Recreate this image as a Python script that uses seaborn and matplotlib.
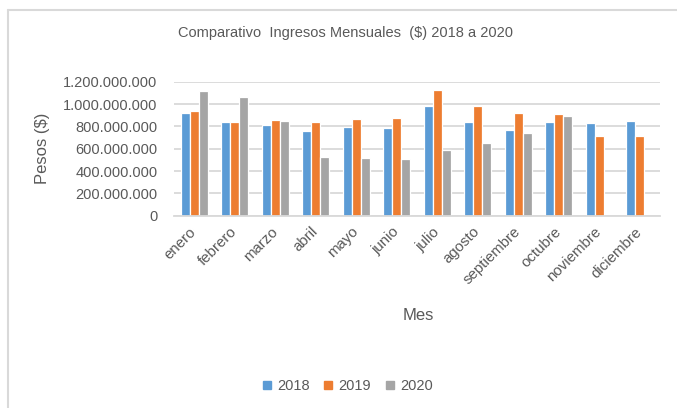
import numpy as np
import pandas as pd
import matplotlib
matplotlib.use("Agg")
import matplotlib.pyplot as plt
import seaborn as sns
from matplotlib.lines import Line2D
from matplotlib.ticker import FuncFormatter

meses = ["enero", "febrero", "marzo", "abril", "mayo", "junio", "julio",
         "agosto", "septiembre", "octubre", "noviembre", "diciembre"]
anios = ["2018", "2019", "2020"]
v2018 = [917e6, 842e6, 812e6, 756e6, 794e6, 788e6, 982e6, 836e6, 770e6, 836e6, 827e6, 851e6]
v2019 = [940e6, 836e6, 860e6, 842e6, 866e6, 872e6, 1125e6, 982e6, 917e6, 910e6, 714e6, 714e6]
v2020 = [1116e6, 1060e6, 845e6, 528e6, 519e6, 505e6, 588e6, 651e6, 740e6, 893e6, np.nan, np.nan]
colores = ["#5B9BD5", "#ED7D31", "#A5A5A5"]
yticks = [0, 200e6, 400e6, 600e6, 800e6, 1000e6, 1200e6]

df = pd.DataFrame({
    "Mes": meses * 3,
    "Año": [anios[0]] * 12 + [anios[1]] * 12 + [anios[2]] * 12,
    "Pesos": v2018 + v2019 + v2020,
})

sns.set_theme(style="white")
plt.rcParams["font.family"] = ["Liberation Sans", "DejaVu Sans"]
txt = "#595959"
grid = "#D9D9D9"

fig = plt.figure(figsize=(6.77, 4.08), dpi=100)
ax = fig.add_axes([174 / 677, 1 - 215.7 / 408, (660 - 174) / 677, (215.7 - 81.7) / 408])

sns.barplot(data=df, x="Mes", y="Pesos", hue="Año", order=meses, hue_order=anios,
            palette=colores, width=0.667, edgecolor="white", linewidth=0.9,
            saturation=1, ax=ax, legend=False)

ax.set_ylim(0, 1200e6)
ax.set_yticks(yticks)
ax.yaxis.set_major_formatter(FuncFormatter(lambda v, p: f"{int(v):,}".replace(",", ".")))
ax.set_xlim(-0.5, 11.5)
ax.grid(axis="y", color=grid, linewidth=1.3)
ax.set_axisbelow(True)
for s in ["left", "right", "top"]:
    ax.spines[s].set_visible(False)
ax.spines["bottom"].set_color(grid)
ax.spines["bottom"].set_linewidth(1.3)
ax.tick_params(axis="y", length=0, pad=12, labelsize=10.5, labelcolor=txt)
ax.tick_params(axis="x", length=0, pad=10, labelsize=10.8, labelcolor=txt)
for lab in ax.get_xticklabels():
    lab.set_rotation(45)
    lab.set_ha("right")
    lab.set_va("center")
    lab.set_rotation_mode("anchor")
ax.set_xlabel("")
ax.set_ylabel("")

fig.text(418 / 677, 1 - 315 / 408, "Mes", ha="center", va="center", fontsize=12, color=txt)
fig.text(43 / 677, 1 - 148 / 408, "Pesos ($)", ha="center", va="center", rotation=90,
         fontsize=12, color=txt)
fig.text(346 / 677, 1 - 33 / 408, "Comparativo  Ingresos Mensuales  ($) 2018 a 2020",
         ha="center", va="center", fontsize=10.5, color=txt)

handles = [Line2D([0], [0], marker="s", linestyle="", markersize=6,
                  markerfacecolor=c, markeredgecolor=c) for c in colores]
fig.legend(handles, anios, loc="center", bbox_to_anchor=(347 / 677, 1 - 386 / 408),
           ncol=3, frameon=False, fontsize=10.5, labelcolor=txt, handlelength=0.8,
           handletextpad=0.3, columnspacing=0.9)

fig.add_artist(Line2D([8 / 677, 1.0], [1 - 10 / 408, 1 - 10 / 408], transform=fig.transFigure,
                      color=grid, linewidth=1.5))
fig.add_artist(Line2D([8 / 677, 8 / 677], [0, 1 - 10 / 408], transform=fig.transFigure,
                      color=grid, linewidth=1.5))

fig.savefig("out.png", dpi=100)
